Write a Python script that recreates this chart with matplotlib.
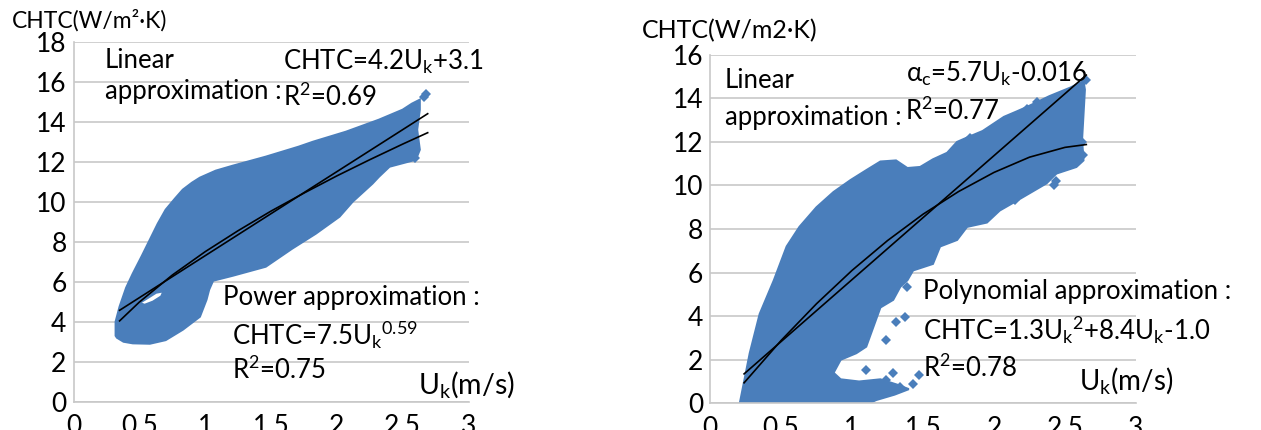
import matplotlib
matplotlib.use("Agg")
import matplotlib.pyplot as plt

plt.rcParams['font.family'] = ['Lato', 'DejaVu Sans']
plt.rcParams['mathtext.fontset'] = 'custom'
plt.rcParams['mathtext.rm'] = 'Lato'
plt.rcParams['mathtext.it'] = 'Lato:italic'

BLUE = '#4a7ebb'
GRID = '#c8c8c8'

# ---- left chart: scatter cloud outline (upper edge, then right edge + lower edge)
l_up_x = [0.32, 0.32, 0.35, 0.40, 0.45, 0.52, 0.58, 0.64, 0.70, 0.77, 0.83, 0.90, 0.96, 1.08,
          1.21, 1.46, 1.71, 1.82, 2.07, 2.32, 2.50, 2.57, 2.63]
l_up_y = [3.3, 4.0, 4.75, 5.7, 6.4, 7.3, 8.1, 8.9, 9.6, 10.15, 10.6, 10.95, 11.2, 11.55,
          11.8, 12.25, 12.75, 13.0, 13.5, 14.1, 14.6, 14.9, 15.1]
l_lo_x = [2.63, 2.61, 2.63, 2.60, 2.40, 2.32, 2.27, 2.12, 2.02, 1.84, 1.66, 1.46, 1.21,
          1.06, 1.03, 1.01, 0.96, 0.83, 0.70, 0.58, 0.45, 0.38, 0.33]
l_lo_y = [14.6, 13.6, 12.6, 12.1, 11.75, 11.25, 10.9, 10.0, 9.25, 8.4, 7.65, 6.75, 6.3,
          6.05, 5.6, 5.1, 4.25, 3.6, 3.08, 2.9, 2.92, 3.0, 3.2]
l_hole_x = [0.52, 0.57, 0.63, 0.67, 0.66, 0.60, 0.54]
l_hole_y = [4.95, 5.15, 5.4, 5.45, 5.3, 5.05, 4.9]
l_out_x = [2.68, 2.66, 2.59]
l_out_y = [15.4, 15.25, 12.2]

# trend lines
l_lin_x = [0.35, 2.69]
l_lin_y = [4.57, 14.4]
l_pow_x = [0.35, 0.5, 0.75, 1.0, 1.25, 1.5, 1.75, 2.0, 2.25, 2.5, 2.69]
l_pow_y = [4.04, 4.98, 6.33, 7.5, 8.55, 9.53, 10.43, 11.29, 12.1, 12.88, 13.45]

# ---- right chart
r_up_x = [0.21, 0.28, 0.35, 0.45, 0.54, 0.63, 0.75, 0.87, 0.99, 1.10, 1.20, 1.31, 1.39,
          1.48, 1.57, 1.67, 1.74, 1.81, 1.92, 2.07, 2.16, 2.23, 2.39, 2.54, 2.63]
r_up_y = [0.0, 2.3, 4.1, 5.65, 7.2, 8.1, 9.0, 9.7, 10.25, 10.7, 11.1, 11.15, 10.8,
          10.85, 11.2, 11.5, 12.0, 12.2, 12.5, 13.15, 13.4, 13.6, 14.1, 14.5, 14.8]
r_lo_x = [2.64, 2.62, 2.63, 2.58, 2.44, 2.37, 2.16, 2.04, 1.95, 1.81, 1.74, 1.62, 1.57,
          1.43, 1.39, 1.34, 1.29, 1.20, 1.15, 1.10, 1.03, 0.92, 0.87, 0.92, 1.05, 1.20,
          1.32, 1.40, 1.30, 1.17, 1.12]
r_lo_y = [14.4, 12.1, 11.15, 10.85, 10.55, 10.1, 9.3, 8.85, 8.3, 8.1, 7.5, 7.2, 6.4,
          6.1, 5.65, 5.35, 4.75, 4.4, 3.5, 2.6, 2.3, 2.0, 1.4, 1.1, 1.0, 1.1,
          0.85, 0.65, 0.4, 0.15, 0.0]
r_out_x = [1.24, 1.34, 1.47, 1.43, 1.31, 1.37, 1.24, 1.23, 1.39, 2.15, 2.42, 2.62,
           2.23, 2.30, 2.65, 2.63, 1.83, 2.44, 1.52, 1.29, 1.10, 1.58]
r_out_y = [1.07, 0.76, 1.3, 0.9, 3.75, 3.97, 2.9, 4.9, 5.35, 9.33, 10.0, 12.0,
           13.5, 13.85, 14.85, 11.4, 12.2, 10.2, 6.9, 1.4, 1.55, 7.1]

r_lin_x = [0.24, 2.65]
r_lin_y = [1.35, 15.07]
r_poly_x = [0.24, 0.5, 0.75, 1.0, 1.25, 1.5, 1.75, 2.0, 2.25, 2.5, 2.65]
r_poly_y = [0.94, 2.88, 4.57, 6.1, 7.47, 8.68, 9.72, 10.6, 11.3, 11.75, 11.88]

x_ticks = [0, 0.5, 1, 1.5, 2, 2.5, 3]
x_labels = ['0', '0.5', '1', '1.5', '2', '2.5', '3']

fig = plt.figure(figsize=(12.61, 4.30), dpi=100)
W, H = 1261.0, 430.0

def style_axes(ax, ymax):
    ax.set_xlim(0, 3)
    ax.set_ylim(0, ymax)
    ax.set_xticks(x_ticks)
    ax.set_xticklabels(x_labels)
    ax.set_yticks(range(0, ymax + 1, 2))
    ax.grid(axis='y', color=GRID, lw=1.2)
    ax.set_axisbelow(True)
    for s in ['top', 'right']:
        ax.spines[s].set_visible(False)
    for s in ['left', 'bottom']:
        ax.spines[s].set_color(GRID)
        ax.spines[s].set_linewidth(1.2)
    ax.tick_params(length=0, labelsize=19, colors='black')
    ax.tick_params(axis='x', pad=9)
    ax.tick_params(axis='y', pad=5)

def draw(ax, up_x, up_y, lo_x, lo_y, ox, oy):
    ax.fill(up_x + lo_x, up_y + lo_y, color=BLUE, lw=1.5, zorder=2)
    ax.plot(ox, oy, 'D', color=BLUE, ms=5, mew=0, zorder=2)

def ftext(x, y, s, size=18.5):
    fig.text(x / W, 1 - y / H, s, fontsize=size, ha='left', va='center', zorder=10)

# left
ax1 = fig.add_axes([73.5 / W, 1 - 401.7 / H, 395 / W, 360 / H])
style_axes(ax1, 18)
draw(ax1, l_up_x, l_up_y, l_lo_x, l_lo_y, l_out_x, l_out_y)
ax1.fill(l_hole_x, l_hole_y, color='white', lw=0, zorder=3)
ax1.plot(l_lin_x, l_lin_y, color='black', lw=1.2, zorder=4)
ax1.plot(l_pow_x, l_pow_y, color='black', lw=1.2, zorder=4)

# right
ax2 = fig.add_axes([710 / W, 1 - 403.3 / H, 426 / W, 348.5 / H])
style_axes(ax2, 16)
draw(ax2, r_up_x, r_up_y, r_lo_x, r_lo_y, r_out_x, r_out_y)
ax2.plot(r_lin_x, r_lin_y, color='black', lw=1.2, zorder=4)
ax2.plot(r_poly_x, r_poly_y, color='black', lw=1.2, zorder=4)

# annotations, left chart
ftext(12, 20, 'CHTC(W/m²·K)', 16.5)
ftext(105, 60, 'Linear')
ftext(105, 92, 'approximation :')
ftext(283, 62, r'CHTC=4.2$\mathregular{U_k}$+3.1')
ftext(283, 97, r'R$\mathregular{^2}$=0.69')
ftext(223, 298, 'Power approximation :')
ftext(232, 335, r'CHTC=7.5$\mathregular{{U_k}^{0.59}}$')
ftext(232, 370, r'R$\mathregular{^2}$=0.75')
ftext(418, 385, r'$\mathregular{U_k}$(m/s)', 20.5)

# annotations, right chart
ftext(642, 31, 'CHTC(W/m2·K)', 18)
ftext(725, 80, 'Linear')
ftext(725, 117, 'approximation :')
ftext(906, 74, r'$\mathregular{\alpha_c}$=5.7$\mathregular{U_k}$-0.016')
ftext(905, 111, r'R$\mathregular{^2}$=0.77')
ftext(923, 292, 'Polynomial approximation :')
ftext(923, 330, r'CHTC=1.3$\mathregular{{U_k}^2}$+8.4$\mathregular{U_k}$-1.0')
ftext(923, 368, r'R$\mathregular{^2}$=0.78')
ftext(1079, 381, r'$\mathregular{U_k}$(m/s)', 20)

fig.savefig('out.png', dpi=100, facecolor='white')
